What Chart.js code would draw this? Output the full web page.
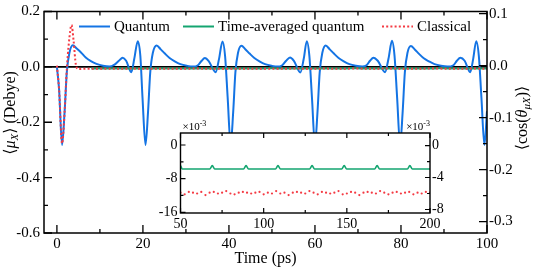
<!DOCTYPE html>
<html><head><meta charset="utf-8">
<script src="https://cdn.jsdelivr.net/npm/chart.js@4.4.1/dist/chart.umd.min.js"></script>
<style>
html,body{margin:0;padding:0;background:#fff;}
#wrap{position:relative;width:533px;height:268px;}
#main{position:absolute;left:0;top:0;}
#inset{position:absolute;left:148px;top:118px;}
</style></head><body>
<div id="wrap"><canvas id="main" width="533" height="268"></canvas><canvas id="inset" width="312" height="113"></canvas></div>
<script>
// ---------------- data ----------------
const quantumT = [0,0.5,1.2,1.8,2.3,2.9,3.7,4.6,5.6,6.7,7.9,9.2,10.7,12.2,
 13.3,14.4,15.3,16.1,17.3,18.0,18.8,19.4,19.9,20.6,21.2,21.7,22.3,23.2,24.1,25.1,26.2,27.4,28.7,30.2,31.6,
 32.8,33.6,34.4,35.3,36.9,37.7,38.5,39.1,39.7,40.4,41.0,41.5,42.1,42.9,43.8,44.8,45.9,47.1,48.4,49.9,51.3,
 52.4,53.3,54.2,55.1,56.6,57.4,58.1,58.7,59.3,60.0,60.6,61.1,61.7,62.5,63.4,64.4,65.5,66.7,68.0,69.5,71.0,
 72.0,72.8,73.6,74.6,76.3,77.1,77.9,78.5,79.1,79.8,80.4,80.9,81.5,82.3,83.2,84.2,85.3,86.5,87.8,89.3,90.8,
 92.2,93.0,93.8,94.8,96.1,96.8,97.5,98.1,98.7,99.4,100.0];
const quantumV = [0,-0.08,-0.282,-0.16,-0.02,0.05,0.078,0.066,0.052,0.034,0.021,0.011,0.004,0.001,
 0.007,0.022,0.033,0.022,-0.019,0.030,0.093,0.040,-0.110,-0.282,-0.160,-0.020,0.050,0.077,0.064,0.048,0.032,0.020,0.010,0.004,0.001,
 0.006,0.021,0.032,0.021,-0.019,0.029,0.092,0.040,-0.110,-0.282,-0.160,-0.020,0.050,0.076,0.064,0.048,0.032,0.020,0.010,0.004,0.001,
 0.006,0.022,0.034,0.022,-0.020,0.030,0.093,0.040,-0.110,-0.282,-0.160,-0.020,0.050,0.077,0.064,0.048,0.032,0.020,0.010,0.004,0.001,
 0.006,0.022,0.033,0.022,-0.019,0.030,0.094,0.040,-0.110,-0.282,-0.160,-0.020,0.050,0.075,0.063,0.047,0.031,0.020,0.010,0.004,0.001,
 0.006,0.022,0.033,0.022,-0.019,0.030,0.093,0.040,-0.110,-0.282,-0.160];

const greenT = [8,14,20,26,32,38,44,
 48.1,49.6,51.1, 67.6,69.1,70.6, 87.9,89.4,90.9, 107.1,108.6,110.1,
 127.6,129.1,130.6, 146.9,148.4,149.9, 166.7,168.2,169.7, 186.4,187.9,189.4, 200];
const greenV = [-0.0061,-0.0058,-0.0057,-0.0056,-0.0057,-0.0056,-0.0057,
 -0.0057,-0.0047,-0.0057, -0.0057,-0.0049,-0.0057, -0.0057,-0.0049,-0.0057, -0.0057,-0.0049,-0.0057,
 -0.0057,-0.0049,-0.0057, -0.0057,-0.0049,-0.0057, -0.0057,-0.0049,-0.0057, -0.0057,-0.0049,-0.0057, -0.0057];

const classicalT = [0,0.5,1.2,1.8,2.3,2.8,3.4,3.9,4.4,5.0,6.0,
 7.5,10,12.5,15,17.5,20,22.5,25,27.5,30,32.5,35,37.5,40,42.5,45,47.5,
 50,52.5,55,57.5,60,62.5,65,67.5,70,72.5,75,77.5,80,82.5,85,87.5,90,92.5,95,97.5,
 100,102.5,105,107.5,110,112.5,115,117.5,120,122.5,125,127.5,130,132.5,135,137.5,140,142.5,145,147.5,
 150,152.5,155,157.5,160,162.5,165,167.5,170,172.5,175,177.5,180,182.5,185,187.5,190,192.5,195,197.5,200];
const classicalV = [0,-0.045,-0.150,-0.088,-0.008,0.045,0.078,0.046,0.002,-0.0068,-0.0063,
 -0.0060,-0.0061,-0.0059,-0.0060,-0.0058,-0.0061,-0.0060,-0.0059,-0.0061,-0.0060,-0.0058,-0.0060,-0.0061,-0.0059,-0.0060,-0.0061,-0.0059,
 -0.0059,-0.0061,-0.0058,-0.0059,-0.0060,-0.0058,-0.0062,-0.0059,-0.0058,-0.0060,
 -0.0059,-0.0057,-0.0060,-0.0061,-0.0059,-0.0058,-0.0059,-0.0060,-0.0059,-0.0058,
 -0.0061,-0.0059,-0.0060,-0.0057,-0.0060,-0.0059,-0.0062,-0.0059,-0.0058,-0.0059,
 -0.0060,-0.0057,-0.0059,-0.0061,-0.0058,-0.0059,-0.0060,-0.0059,-0.0057,-0.0061,
 -0.0060,-0.0058,-0.0059,-0.0062,-0.0059,-0.0058,-0.0059,-0.0060,-0.0057,-0.0059,
 -0.0061,-0.0059,-0.0058,-0.0060,-0.0059,-0.0058,-0.0061,-0.0059,-0.0060,-0.0058,
 -0.0059];

const zeroT = [-3, 100];
const zeroV = [0, 0];

// tick values
const xMajor = [0,20,40,60,80,100];
const xMinor = [10,30,50,70,90];
const yMajor = [0.2,0,-0.2,-0.4,-0.6];
const yMinor = [0.1,-0.1,-0.3,-0.5];
const y2Major = [0.1,0,-0.1,-0.2,-0.3];
const y2Minor = [0.05,-0.05,-0.15,-0.25];
const inXMajor = [50,100,150,200];
const inXMinor = [75,125,175];
const inYMajor = [0,-0.008,-0.016];
const inYMinor = [-0.004,-0.012];
const inY2Major = [0,-0.004,-0.008];
const inY2Minor = [-0.002,-0.006];

const legendLabels = ['Quantum','Time-averaged quantum','Classical'];

// ---------------- styling ----------------
const FONT = "'Liberation Serif','DejaVu Serif',serif";
const BLUE = '#1474e4';
const GREEN = '#14a570';
const RED = '#f43a43';
const pts = (t, v) => t.map((x, i) => ({x, y: v[i]}));

const framePlugin = {
  id: 'frame',
  beforeDraw(chart, args, o) {
    if (o.fillWhite) {
      const a = chart.chartArea, ctx = chart.ctx;
      ctx.save(); ctx.fillStyle = '#fff';
      ctx.fillRect(a.left, a.top, a.right - a.left, a.bottom - a.top);
      ctx.restore();
    }
  },
  afterDatasetsDraw(chart, args, o) {
    const {ctx, chartArea: a, scales} = chart;
    ctx.save();
    ctx.strokeStyle = '#000';
    ctx.lineWidth = o.tw;
    ctx.beginPath();
    const xt = (list, len) => list.forEach(v => { const p = scales.x.getPixelForValue(v);
      ctx.moveTo(p, a.bottom); ctx.lineTo(p, a.bottom - len); ctx.moveTo(p, a.top); ctx.lineTo(p, a.top + len); });
    const yl = (list, len) => list.forEach(v => { const p = scales.y.getPixelForValue(v);
      ctx.moveTo(a.left, p); ctx.lineTo(a.left + len, p); });
    const yr = (list, len) => list.forEach(v => { const p = scales.y2.getPixelForValue(v);
      ctx.moveTo(a.right, p); ctx.lineTo(a.right - len, p); });
    xt(o.xMajor, o.major); xt(o.xMinor, o.minor);
    yl(o.yMajor, o.major); yl(o.yMinor, o.minor);
    yr(o.y2Major, o.major); yr(o.y2Minor, o.minor);
    ctx.stroke();
    ctx.lineWidth = o.lw;
    ctx.strokeRect(a.left, a.top, a.right - a.left, a.bottom - a.top);
    ctx.restore();
  }
};

function drawRich(ctx, segs, cx, cy, rot) {
  ctx.save();
  ctx.translate(cx, cy); ctx.rotate(rot);
  ctx.textBaseline = 'middle'; ctx.textAlign = 'left'; ctx.fillStyle = '#000';
  let w = 0;
  segs.forEach(s => { ctx.font = s.f; w += ctx.measureText(s.t).width; });
  let x = -w / 2;
  segs.forEach(s => { ctx.font = s.f; ctx.fillText(s.t, x, s.dy || 0); x += ctx.measureText(s.t).width; });
  ctx.restore();
}

const mainDecor = {
  id: 'mainDecor',
  afterDraw(chart) {
    const {ctx, chartArea: a} = chart;
    const N = '16px ' + FONT, I = 'italic 16px ' + FONT, S = 'italic 11px ' + FONT;
    drawRich(ctx, [{t:'⟨', f:N}, {t:'μ', f:I}, {t:'X', f:S, dy:4}, {t:'⟩ (Debye)', f:N}], 11, 113, -Math.PI/2);
    drawRich(ctx, [{t:'⟨cos(', f:N}, {t:'θ', f:I}, {t:'μX', f:S, dy:4}, {t:')⟩', f:N}], 523, 118, -Math.PI/2);
    // legend
    const starts = [35, 139, 338];
    const ly = a.top + 15;
    ctx.save();
    ctx.font = '15px ' + FONT; ctx.textBaseline = 'middle'; ctx.fillStyle = '#000';
    legendLabels.forEach((lab, i) => {
      const ds = chart.data.datasets.find(d => d.label === lab);
      const x0 = a.left + starts[i];
      ctx.save();
      ctx.strokeStyle = ds.borderColor; ctx.lineWidth = 2;
      ctx.setLineDash(ds.borderDash || []);
      ctx.beginPath(); ctx.moveTo(x0, ly); ctx.lineTo(x0 + 31, ly); ctx.stroke();
      ctx.restore();
      ctx.fillText(lab, x0 + 35, ly + 1);
    });
    ctx.restore();
  }
};

const tickFont = {family: FONT, size: 15, lineHeight: 1};

new Chart(document.getElementById('main'), {
  type: 'line',
  data: { datasets: [
    {label:'Classical', data: pts(classicalT, classicalV), yAxisID:'y2', borderColor: RED, borderWidth: 2, borderDash:[2,2.2], pointRadius:0, cubicInterpolationMode:'monotone', order:0},
    {label:'Time-averaged quantum', data: pts(greenT, greenV), yAxisID:'y', borderColor: GREEN, borderWidth: 2, pointRadius:0, cubicInterpolationMode:'monotone', order:1},
    {label:'Quantum', data: pts(quantumT, quantumV), yAxisID:'y', borderColor: BLUE, borderWidth: 2, pointRadius:0, cubicInterpolationMode:'monotone', order:2},
    {label:'zero', data: pts(zeroT, zeroV), yAxisID:'y', borderColor:'#000', borderWidth:1.6, pointRadius:0, order:3}
  ]},
  options: {
    responsive:false, animation:false, devicePixelRatio:1,
    layout:{padding:{top:8,left:0,right:0,bottom:0}},
    plugins:{legend:{display:false}, tooltip:{enabled:false},
      frame:{tw:1.3, lw:1.5, major:8, minor:4, xMajor, xMinor, yMajor, yMinor, y2Major, y2Minor}},
    scales:{
      x:{type:'linear', min:-3, max:100, grid:{display:false, drawTicks:false}, border:{display:false},
        ticks:{font:tickFont, color:'#000', padding:4, maxRotation:0, autoSkip:false, callback:v=>String(v)},
        afterBuildTicks:s=>{s.ticks = xMajor.map(v=>({value:v}));},
        afterFit:s=>{s.height = 35;},
        title:{display:true, text:'Time (ps)', color:'#000', font:{family:FONT, size:16, lineHeight:1.2}, padding:{top:0,bottom:0}}},
      y:{type:'linear', position:'left', min:-0.6, max:0.2, grid:{display:false, drawTicks:false}, border:{display:false},
        ticks:{font:tickFont, color:'#000', padding:4, autoSkip:false, callback:v=>v.toFixed(1)},
        afterBuildTicks:s=>{s.ticks = yMajor.map(v=>({value:v}));},
        afterFit:s=>{s.width = 44;}},
      y2:{type:'linear', position:'right', min:-0.322, max:0.104, grid:{display:false, drawTicks:false}, border:{display:false},
        ticks:{font:tickFont, color:'#000', padding:2, autoSkip:false, callback:v=>v.toFixed(1)},
        afterBuildTicks:s=>{s.ticks = y2Major.map(v=>({value:v}));},
        afterFit:s=>{s.width = 46;}}
    }
  },
  plugins:[framePlugin, mainDecor]
});

const insetDecor = {
  id: 'insetDecor',
  afterDraw(chart) {
    const {ctx, chartArea: a} = chart;
    ctx.save(); ctx.fillStyle = '#000'; ctx.textBaseline = 'alphabetic';
    const put = (x, align) => {
      ctx.font = '11px ' + FONT;
      const w1 = ctx.measureText('×10').width;
      ctx.font = '8px ' + FONT;
      const w2 = ctx.measureText('-3').width;
      const x0 = align === 'left' ? x : x - w1 - w2;
      ctx.font = '11px ' + FONT; ctx.fillText('×10', x0, a.top - 3);
      ctx.font = '8px ' + FONT; ctx.fillText('-3', x0 + w1, a.top - 7);
    };
    put(a.left + 2, 'left');
    put(a.right, 'right');
    ctx.restore();
  }
};

const inFont = {family: FONT, size: 14, lineHeight: 1};
new Chart(document.getElementById('inset'), {
  type: 'line',
  data: { datasets: [
    {label:'Classical', data: pts(classicalT, classicalV), yAxisID:'y2', showLine:false, pointRadius:1.1, pointBackgroundColor:RED, pointBorderWidth:0, borderColor:RED, order:0},
    {label:'Time-averaged quantum', data: pts(greenT, greenV), yAxisID:'y', borderColor: GREEN, borderWidth: 1.6, pointRadius:0, cubicInterpolationMode:'monotone', order:1}
  ]},
  options: {
    responsive:false, animation:false, devicePixelRatio:1,
    layout:{padding:{top:15,left:0,right:0,bottom:0}},
    plugins:{legend:{display:false}, tooltip:{enabled:false},
      frame:{fillWhite:true, tw:1.2, lw:1.4, major:5, minor:3, xMajor:inXMajor, xMinor:inXMinor, yMajor:inYMajor, yMinor:inYMinor, y2Major:inY2Major, y2Minor:inY2Minor}},
    scales:{
      x:{type:'linear', min:50, max:200, grid:{display:false, drawTicks:false}, border:{display:false},
        ticks:{font:inFont, color:'#000', padding:4, maxRotation:0, autoSkip:false, callback:v=>String(v)},
        afterBuildTicks:s=>{s.ticks = inXMajor.map(v=>({value:v}));},
        afterFit:s=>{s.height = 18;}},
      y:{type:'linear', position:'left', min:-0.01617, max:0.00285, grid:{display:false, drawTicks:false}, border:{display:false},
        ticks:{font:inFont, color:'#000', padding:3, autoSkip:false, callback:v=>String(Math.round(v*1000))},
        afterBuildTicks:s=>{s.ticks = inYMajor.map(v=>({value:v}));},
        afterFit:s=>{s.width = 32.5;}},
      y2:{type:'linear', position:'right', min:-0.00844, max:0.00157, grid:{display:false, drawTicks:false}, border:{display:false},
        ticks:{font:inFont, color:'#000', padding:2, autoSkip:false, callback:v=>String(Math.round(v*1000))},
        afterBuildTicks:s=>{s.ticks = inY2Major.map(v=>({value:v}));},
        afterFit:s=>{s.width = 30;}}
    }
  },
  plugins:[framePlugin, insetDecor]
});
</script></body></html>
